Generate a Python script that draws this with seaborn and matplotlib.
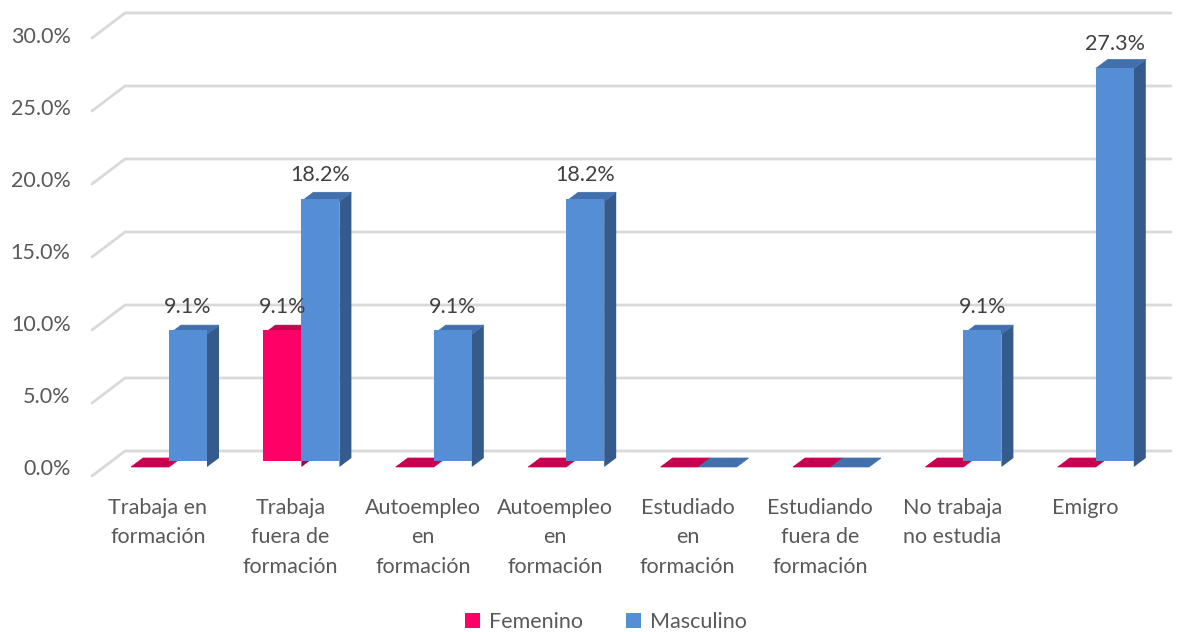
import matplotlib
matplotlib.use('Agg')
import matplotlib.pyplot as plt
import matplotlib.transforms as mtransforms
from matplotlib.patches import Polygon
import numpy as np
import pandas as pd
import seaborn as sns

# Categories and values (percent)
categorias = ['Trabaja en\nformación', 'Trabaja\nfuera de\nformación', 'Autoempleo\nen\nformación',
              'Autoempleo\nen\nformación', 'Estudiado\nen\nformación', 'Estudiando\nfuera de\nformación',
              'No trabaja\nno estudia', 'Emigro']
femenino  = [0.0, 9.1, 0.0, 0.0, 0.0, 0.0, 0.0, 0.0]
masculino = [9.1, 18.2, 9.1, 18.2, 0.0, 0.0, 9.1, 27.3]
series    = ['Femenino', 'Masculino']
yticks    = [0, 5, 10, 15, 20, 25, 30]

colores = {'Femenino': '#FF0066', 'Masculino': '#558ED5'}
top_col = {'Femenino': '#C8004F', 'Masculino': '#4170AC'}
side_col = {'Femenino': '#A80042', 'Masculino': '#355B8C'}

df = pd.DataFrame({
    'cat': list(range(len(categorias))) * 2,
    'val': [v / 100 for v in femenino + masculino],
    'sexo': ['Femenino'] * len(femenino) + ['Masculino'] * len(masculino),
})

sns.set_style('white')
plt.rcParams['font.family'] = ['Lato', 'DejaVu Sans']

fig = plt.figure(figsize=(11.79, 6.32), dpi=100)
W, H = 1179, 632
# axes box = plane of the bar front faces (pixels)
ax = fig.add_axes([104 / W, (H - 467) / H, (1150 - 104) / W, (467 - 29) / H])

sns.barplot(data=df, x='cat', y='val', hue='sexo', palette=colores, width=0.574,
            saturation=1, ax=ax, zorder=3, linewidth=0)

xlim = ((104 - 169) / 132.4, (1150 - 169) / 132.4)
ax.set_xlim(*xlim)
ax.set_ylim(0, 0.30)
ax.set_autoscale_on(False)
for s in ax.spines.values():
    s.set_visible(False)

ident = mtransforms.IdentityTransform()
dx, dy = 12, 9          # bar depth in pixels
bx, by = 21, 16         # back wall offset
fx, fy = -12, -9        # front plane offset

# gridlines (back wall + left wall diagonal)
for v in yticks:
    y = v / 100
    a = ax.transData.transform((xlim[0], y))
    b = ax.transData.transform((xlim[1], y))
    ax.add_line(plt.Line2D([a[0] + fx, a[0] + bx, b[0] + bx], [a[1] + fy, a[1] + by, b[1] + by],
                           transform=ident, color='#D9D9D9', lw=2, clip_on=False, zorder=0.5))

# 3D faces of each bar
for cont, name in zip(ax.containers, series):
    for r in cont.patches:
        x0, w, h = r.get_x(), r.get_width(), r.get_height()
        p0 = ax.transData.transform((x0, h))
        p1 = ax.transData.transform((x0 + w, h))
        q1 = ax.transData.transform((x0 + w, 0))
        top = [p0, p1, p1 + [dx, dy], p0 + [dx, dy]]
        side = [q1, p1, p1 + [dx, dy], q1 + [dx, dy]]
        ax.add_patch(Polygon(side, closed=True, transform=ident, facecolor=side_col[name],
                             edgecolor='none', clip_on=False, zorder=2))
        ax.add_patch(Polygon(top, closed=True, transform=ident, facecolor=top_col[name],
                             edgecolor=top_col[name], lw=0.5, clip_on=False, zorder=2))
        if h > 0:
            ax.annotate(f'{h * 100:.1f}%', (x0 + w / 2, h), xytext=(0, 23.5), textcoords='offset pixels',
                        ha='center', va='center', fontsize=15.5, color='#404040', zorder=5)

# axis labels
ax.set_xticks(np.arange(len(categorias)) - 11 / 132.4)
ax.set_xticklabels(categorias, fontsize=15.5, color='#595959', linespacing=1.62, va='top')
ax.tick_params(axis='x', length=0, pad=22)
ax.set_yticks(np.array(yticks) / 100 - 6 / 1460)
ax.set_yticklabels([f'{v:.1f}%' for v in yticks], fontsize=15.5, color='#595959')
ax.tick_params(axis='y', length=0, pad=24)
ax.set_xlabel('')
ax.set_ylabel('')

handles, labels = ax.get_legend_handles_labels()
ax.legend(handles, labels, loc='center', bbox_to_anchor=(606 / W, 1 - 622 / H),
          bbox_transform=fig.transFigure, ncol=2, frameon=False, fontsize=15.5,
          handlelength=0.7, handleheight=0.7, handletextpad=0.4, columnspacing=2.0,
          labelcolor='#595959')

fig.savefig('out.png', dpi=100)
